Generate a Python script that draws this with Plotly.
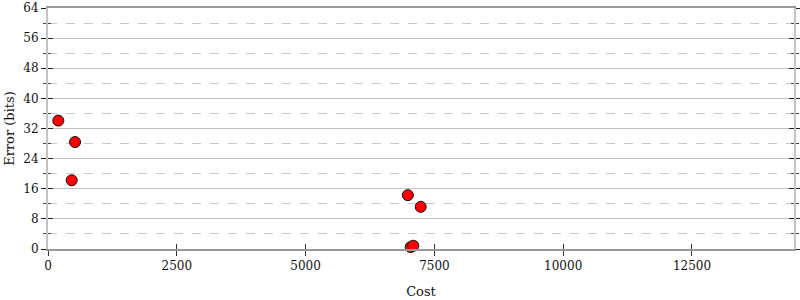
import plotly.graph_objects as go

cost = [200, 525, 460, 6985, 7235, 7040, 7090]
error_bits = [34.1, 28.4, 18.25, 14.3, 11.2, 0.5, 0.87]
x_ticks = [0, 2500, 5000, 7500, 10000, 12500]
y_ticks = [0, 8, 16, 24, 32, 40, 48, 56, 64]

x_range = [0, 14480]
y_range = [0, 64]
font = dict(family="DejaVu Serif", size=12, color="#111")

fig = go.Figure()
fig.add_trace(go.Scatter(
    x=cost, y=error_bits, mode="markers",
    marker=dict(color="#ff0000", size=11, line=dict(color="#111", width=1)),
    cliponaxis=False, showlegend=False, hoverinfo="skip"))
# invisible trace to carry the inner-tick axes
fig.add_trace(go.Scatter(x=[None], y=[None], xaxis="x2", yaxis="y2",
                         showlegend=False, hoverinfo="skip"))

fig.update_layout(
    width=800, height=300,
    margin=dict(l=48, r=6, t=8, b=51, autoexpand=False),
    paper_bgcolor="white", plot_bgcolor="white",
    font=font,
    xaxis=dict(range=x_range, tickvals=x_ticks, ticktext=[str(v) for v in x_ticks],
               ticks="outside", ticklen=5, tickwidth=1, tickcolor="#333",
               showline=True, linecolor="#999", linewidth=2, mirror=True,
               showgrid=False, zeroline=False, automargin=False,
               title=dict(text="Cost", font=dict(size=13), standoff=14)),
    yaxis=dict(range=y_range, tickvals=y_ticks, ticktext=[str(v) for v in y_ticks],
               ticks="outside", ticklen=5, tickwidth=1, tickcolor="#222",
               showline=True, linecolor="#c4c4c4", linewidth=2, mirror="ticks",
               showgrid=True, gridcolor="#c0c0c0", gridwidth=1, zeroline=False,
               automargin=False,
               minor=dict(dtick=4, tick0=0, ticks="outside", ticklen=3, tickcolor="#444",
                          showgrid=True, gridcolor="#c8c8c8", griddash="dash", gridwidth=1),
               title=dict(text="Error (bits)", font=dict(size=13), standoff=6)),
    xaxis2=dict(range=x_range, overlaying="x", anchor="y2", tickvals=x_ticks,
                showticklabels=False, ticks="inside", ticklen=5, tickwidth=1,
                tickcolor="#333", showgrid=False, zeroline=False, showline=False,
                automargin=False),
    yaxis2=dict(range=y_range, overlaying="y", anchor="x2", side="left", tickvals=y_ticks,
                showticklabels=False, ticks="inside", ticklen=5, tickwidth=1,
                tickcolor="#222", mirror="ticks", showline=True, linecolor="rgba(0,0,0,0)",
                showgrid=False, zeroline=False, automargin=False,
                minor=dict(dtick=4, tick0=0, ticks="inside", ticklen=3, tickcolor="#444")),
)

fig.write_html("out.html")
